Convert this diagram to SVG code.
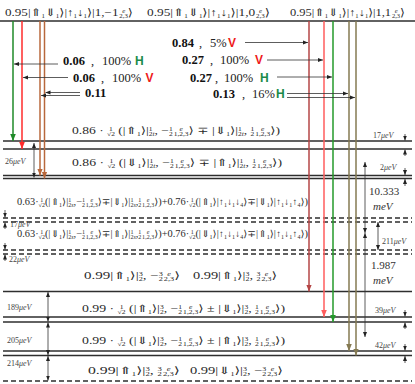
<svg xmlns="http://www.w3.org/2000/svg" width="415" height="384" viewBox="0 0 415 384">
<style>
.t{font-family:"Liberation Serif","DejaVu Serif",serif;fill:#2a2a2a}
.sb{font-size:5.5px;baseline-shift:-2.2px}
.sp{font-size:5.5px;baseline-shift:3.2px}
.i{font-style:italic}
.lv{stroke:#2e2e2e;stroke-width:1.3;fill:none}
.ld{stroke:#2e2e2e;stroke-width:1.3;fill:none;stroke-dasharray:5 3}
.ar{stroke:#333;stroke-width:0.8;fill:none}
.bn{font-family:"Liberation Serif",serif;font-weight:bold;font-size:12.5px;fill:#111}
.nm{font-family:"Liberation Serif",serif;font-size:12.5px;fill:#222}
.V{font-family:"Liberation Sans",Arial,sans-serif;font-weight:bold;font-size:12px;fill:#ee1a1a}
.H{font-family:"Liberation Sans",Arial,sans-serif;font-weight:bold;font-size:12px;fill:#1b8a4a}
.e{font-family:"Liberation Serif",serif;font-size:8px;fill:#444}
.big{font-family:"Liberation Serif",serif;font-size:11px;fill:#333}
.tr{fill:none;stroke-width:1.5}
</style>
<defs>
<marker id="ak" viewBox="0 0 10 10" refX="10" refY="5" markerWidth="5" markerHeight="5" markerUnits="userSpaceOnUse" orient="auto-start-reverse"><path d="M0,1 L10,5 L0,9 z" fill="#222"/></marker>
<marker id="mg1" viewBox="0 0 10 10" refX="10" refY="5" markerWidth="7" markerHeight="7" markerUnits="userSpaceOnUse" orient="auto"><path d="M0,1 L10,5 L0,9 z" fill="#1f8a28"/></marker>
<marker id="mr1" viewBox="0 0 10 10" refX="10" refY="5" markerWidth="7" markerHeight="7" markerUnits="userSpaceOnUse" orient="auto"><path d="M0,1 L10,5 L0,9 z" fill="#ff2b2b"/></marker>
<marker id="mbr" viewBox="0 0 10 10" refX="10" refY="5" markerWidth="7" markerHeight="7" markerUnits="userSpaceOnUse" orient="auto"><path d="M0,1 L10,5 L0,9 z" fill="#b8683c"/></marker>
<marker id="mdr" viewBox="0 0 10 10" refX="10" refY="5" markerWidth="7" markerHeight="7" markerUnits="userSpaceOnUse" orient="auto"><path d="M0,1 L10,5 L0,9 z" fill="#b54646"/></marker>
<marker id="mr2" viewBox="0 0 10 10" refX="10" refY="5" markerWidth="7" markerHeight="7" markerUnits="userSpaceOnUse" orient="auto"><path d="M0,1 L10,5 L0,9 z" fill="#ff5c5c"/></marker>
<marker id="mg2" viewBox="0 0 10 10" refX="10" refY="5" markerWidth="7" markerHeight="7" markerUnits="userSpaceOnUse" orient="auto"><path d="M0,1 L10,5 L0,9 z" fill="#249a2a"/></marker>
<marker id="mol" viewBox="0 0 10 10" refX="10" refY="5" markerWidth="7" markerHeight="7" markerUnits="userSpaceOnUse" orient="auto"><path d="M0,1 L10,5 L0,9 z" fill="#857a52"/></marker>
</defs>
<rect width="415" height="384" fill="#fff"/>

<g id="levels">
<line class="lv" x1="0" y1="21" x2="415" y2="21"/>
<line class="lv" x1="3" y1="141" x2="412" y2="141"/>
<line class="lv" x1="3" y1="149" x2="412" y2="149"/>
<line class="lv" x1="3" y1="175.5" x2="412" y2="175.5"/>
<line class="lv" x1="3" y1="178.5" x2="412" y2="178.5"/>
<line class="ld" x1="3" y1="218" x2="412" y2="218"/>
<line class="ld" x1="3" y1="222" x2="412" y2="222"/>
<line class="ld" x1="3" y1="250" x2="412" y2="250"/>
<line class="ld" x1="3" y1="254" x2="412" y2="254"/>
<line class="lv" x1="3" y1="291.5" x2="412" y2="291.5"/>
<line class="lv" x1="3" y1="317" x2="412" y2="317"/>
<line class="lv" x1="3" y1="322" x2="412" y2="322"/>
<line class="lv" x1="3" y1="351" x2="412" y2="351"/>
<line class="lv" x1="3" y1="355.5" x2="412" y2="355.5"/>
<line class="ld" x1="3" y1="381" x2="412" y2="381"/>
</g>

<g id="states">
<text class="t" x="5" y="16" font-size="10.5" textLength="128" lengthAdjust="spacingAndGlyphs">0.95|⇑<tspan class="sb">1</tspan>⇓<tspan class="sb">1</tspan>⟩|↑<tspan class="sb">1</tspan>↓<tspan class="sb">1</tspan>⟩|1,−1<tspan class="sp i" dx="3">e</tspan><tspan class="sb" dx="-4.75">2,3</tspan>⟩</text>
<text class="t" x="147" y="16" font-size="10.5" textLength="123" lengthAdjust="spacingAndGlyphs">0.95|⇑<tspan class="sb">1</tspan>⇓<tspan class="sb">1</tspan>⟩|↑<tspan class="sb">1</tspan>↓<tspan class="sb">1</tspan>⟩|1,0<tspan class="sp i" dx="3">e</tspan><tspan class="sb" dx="-4.75">2,3</tspan>⟩</text>
<text class="t" x="290" y="16" font-size="10.5" textLength="115" lengthAdjust="spacingAndGlyphs">0.95|⇑<tspan class="sb">1</tspan>⇓<tspan class="sb">1</tspan>⟩|↑<tspan class="sb">1</tspan>↓<tspan class="sb">1</tspan>⟩|1,1<tspan class="sp i" dx="3">e</tspan><tspan class="sb" dx="-4.75">2,3</tspan>⟩</text>

<text class="t" x="72" y="134" font-size="10" textLength="208" lengthAdjust="spacingAndGlyphs">0.86 · <tspan class="sp" dx="1.5">1</tspan><tspan class="sb" dx="-4.25">√2</tspan> (|⇑<tspan class="sb">1</tspan>⟩|<tspan class="sp">1</tspan><tspan class="sb" dx="-2.75">2</tspan><tspan class="sb i">t</tspan>, −<tspan class="sp">1</tspan><tspan class="sb" dx="-2.75">2</tspan><tspan class="sp i" dx="5">e</tspan><tspan class="sb" dx="-6.75">1,2,3</tspan>⟩ ∓ |⇓<tspan class="sb">1</tspan>⟩|<tspan class="sp">1</tspan><tspan class="sb" dx="-2.75">2</tspan><tspan class="sb i">t</tspan>, <tspan class="sp">1</tspan><tspan class="sb" dx="-2.75">2</tspan><tspan class="sp i" dx="5">e</tspan><tspan class="sb" dx="-6.75">1,2,3</tspan>⟩)</text>
<text class="t" x="72" y="166" font-size="10" textLength="210" lengthAdjust="spacingAndGlyphs">0.86 · <tspan class="sp" dx="1.5">1</tspan><tspan class="sb" dx="-4.25">√2</tspan> (|⇓<tspan class="sb">1</tspan>⟩|<tspan class="sp">1</tspan><tspan class="sb" dx="-2.75">2</tspan><tspan class="sb i">t</tspan>, −<tspan class="sp">1</tspan><tspan class="sb" dx="-2.75">2</tspan><tspan class="sp i" dx="5">e</tspan><tspan class="sb" dx="-6.75">1,2,3</tspan>⟩ ∓ |⇑<tspan class="sb">1</tspan>⟩|<tspan class="sp">1</tspan><tspan class="sb" dx="-2.75">2</tspan><tspan class="sb i">t</tspan>, <tspan class="sp">1</tspan><tspan class="sb" dx="-2.75">2</tspan><tspan class="sp i" dx="5">e</tspan><tspan class="sb" dx="-6.75">1,2,3</tspan>⟩)</text>

<text class="t" x="17" y="205" font-size="9.5" textLength="291" lengthAdjust="spacingAndGlyphs">0.63·<tspan class="sp" dx="1.5">1</tspan><tspan class="sb" dx="-4.25">√2</tspan>(|⇑<tspan class="sb">1</tspan>⟩|<tspan class="sp">1</tspan><tspan class="sb" dx="-2.75">2</tspan><tspan class="sb i">s</tspan>,−<tspan class="sp">1</tspan><tspan class="sb" dx="-2.75">2</tspan><tspan class="sp i" dx="5">e</tspan><tspan class="sb" dx="-6.75">1,2,3</tspan>⟩∓|⇓<tspan class="sb">1</tspan>⟩|<tspan class="sp">1</tspan><tspan class="sb" dx="-2.75">2</tspan><tspan class="sb i">s</tspan>,<tspan class="sp">1</tspan><tspan class="sb" dx="-2.75">2</tspan><tspan class="sp i" dx="5">e</tspan><tspan class="sb" dx="-6.75">1,2,3</tspan>⟩)+0.76·<tspan class="sp" dx="1.5">1</tspan><tspan class="sb" dx="-4.25">√2</tspan>(|⇑<tspan class="sb">1</tspan>⟩|↑<tspan class="sb">1</tspan>↓<tspan class="sb">1</tspan>↓<tspan class="sb">4</tspan>⟩∓|⇓<tspan class="sb">1</tspan>⟩|↑<tspan class="sb">1</tspan>↓<tspan class="sb">1</tspan>↑<tspan class="sb">4</tspan>⟩)</text>
<text class="t" x="17" y="237" font-size="9.5" textLength="291" lengthAdjust="spacingAndGlyphs">0.63·<tspan class="sp" dx="1.5">1</tspan><tspan class="sb" dx="-4.25">√2</tspan>(|⇓<tspan class="sb">1</tspan>⟩|<tspan class="sp">1</tspan><tspan class="sb" dx="-2.75">2</tspan><tspan class="sb i">s</tspan>,−<tspan class="sp">1</tspan><tspan class="sb" dx="-2.75">2</tspan><tspan class="sp i" dx="5">e</tspan><tspan class="sb" dx="-6.75">1,2,3</tspan>⟩∓|⇑<tspan class="sb">1</tspan>⟩|<tspan class="sp">1</tspan><tspan class="sb" dx="-2.75">2</tspan><tspan class="sb i">s</tspan>,<tspan class="sp">1</tspan><tspan class="sb" dx="-2.75">2</tspan><tspan class="sp i" dx="5">e</tspan><tspan class="sb" dx="-6.75">1,2,3</tspan>⟩)+0.76·<tspan class="sp" dx="1.5">1</tspan><tspan class="sb" dx="-4.25">√2</tspan>(|⇓<tspan class="sb">1</tspan>⟩|↑<tspan class="sb">1</tspan>↓<tspan class="sb">1</tspan>↓<tspan class="sb">4</tspan>⟩∓|⇑<tspan class="sb">1</tspan>⟩|↑<tspan class="sb">1</tspan>↓<tspan class="sb">1</tspan>↑<tspan class="sb">4</tspan>⟩)</text>

<text class="t" x="84" y="279" font-size="10" textLength="96" lengthAdjust="spacingAndGlyphs">0.99|⇑<tspan class="sb">1</tspan>⟩|<tspan class="sp">3</tspan><tspan class="sb" dx="-2.75">2</tspan>, −<tspan class="sp">3</tspan><tspan class="sb" dx="-2.75">2</tspan><tspan class="sp i" dx="3">e</tspan><tspan class="sb" dx="-4.75">2,3</tspan>⟩</text>
<text class="t" x="193" y="279" font-size="10" textLength="84" lengthAdjust="spacingAndGlyphs">0.99|⇑<tspan class="sb">1</tspan>⟩|<tspan class="sp">3</tspan><tspan class="sb" dx="-2.75">2</tspan>, <tspan class="sp">3</tspan><tspan class="sb" dx="-2.75">2</tspan><tspan class="sp i" dx="3">e</tspan><tspan class="sb" dx="-4.75">2,3</tspan>⟩</text>

<text class="t" x="82" y="312" font-size="10" textLength="203" lengthAdjust="spacingAndGlyphs">0.99 · <tspan class="sp" dx="1.5">1</tspan><tspan class="sb" dx="-4.25">√2</tspan> (|⇑<tspan class="sb">1</tspan>⟩|<tspan class="sp">3</tspan><tspan class="sb" dx="-2.75">2</tspan>, −<tspan class="sp">1</tspan><tspan class="sb" dx="-2.75">2</tspan><tspan class="sp i" dx="5">e</tspan><tspan class="sb" dx="-6.75">1,2,3</tspan>⟩ ± |⇓<tspan class="sb">1</tspan>⟩|<tspan class="sp">3</tspan><tspan class="sb" dx="-2.75">2</tspan>, <tspan class="sp">1</tspan><tspan class="sb" dx="-2.75">2</tspan><tspan class="sp i" dx="5">e</tspan><tspan class="sb" dx="-6.75">1,2,3</tspan>⟩)</text>
<text class="t" x="82" y="344" font-size="10" textLength="203" lengthAdjust="spacingAndGlyphs">0.99 · <tspan class="sp" dx="1.5">1</tspan><tspan class="sb" dx="-4.25">√2</tspan> (|⇓<tspan class="sb">1</tspan>⟩|<tspan class="sp">3</tspan><tspan class="sb" dx="-2.75">2</tspan>, −<tspan class="sp">1</tspan><tspan class="sb" dx="-2.75">2</tspan><tspan class="sp i" dx="5">e</tspan><tspan class="sb" dx="-6.75">1,2,3</tspan>⟩ ± |⇑<tspan class="sb">1</tspan>⟩|<tspan class="sp">3</tspan><tspan class="sb" dx="-2.75">2</tspan>, <tspan class="sp">1</tspan><tspan class="sb" dx="-2.75">2</tspan><tspan class="sp i" dx="5">e</tspan><tspan class="sb" dx="-6.75">1,2,3</tspan>⟩)</text>

<text class="t" x="88" y="374" font-size="10" textLength="92" lengthAdjust="spacingAndGlyphs">0.99|⇑<tspan class="sb">1</tspan>⟩|<tspan class="sp">3</tspan><tspan class="sb" dx="-2.75">2</tspan>, <tspan class="sp">3</tspan><tspan class="sb" dx="-2.75">2</tspan><tspan class="sp i" dx="3">e</tspan><tspan class="sb" dx="-4.75">2,3</tspan>⟩</text>
<text class="t" x="190" y="374" font-size="10" textLength="93" lengthAdjust="spacingAndGlyphs">0.99|⇓<tspan class="sb">1</tspan>⟩|<tspan class="sp">3</tspan><tspan class="sb" dx="-2.75">2</tspan>, −<tspan class="sp">3</tspan><tspan class="sb" dx="-2.75">2</tspan><tspan class="sp i" dx="3">e</tspan><tspan class="sb" dx="-4.75">2,3</tspan>⟩</text>
</g>

<g id="transitions">
<line class="tr" x1="13" y1="21" x2="13" y2="141" stroke="#1f8a28" marker-end="url(#mg1)"/>
<line class="tr" x1="22" y1="21" x2="22" y2="149" stroke="#ff2b2b" marker-end="url(#mr1)"/>
<line class="tr" x1="40" y1="21" x2="40" y2="175.5" stroke="#b8683c" marker-end="url(#mbr)"/>
<line class="tr" x1="44.5" y1="21" x2="44.5" y2="178.5" stroke="#b8683c" marker-end="url(#mbr)"/>
<line class="tr" x1="309" y1="21" x2="309" y2="291.5" stroke="#b54646" marker-end="url(#mdr)"/>
<line class="tr" x1="324" y1="21" x2="324" y2="317" stroke="#ff5c5c" marker-end="url(#mr2)"/>
<line class="tr" x1="333" y1="21" x2="333" y2="322" stroke="#249a2a" marker-end="url(#mg2)"/>
<line class="tr" x1="349" y1="21" x2="349" y2="351" stroke="#857a52" marker-end="url(#mol)"/>
<line class="tr" x1="356" y1="21" x2="356" y2="355.5" stroke="#857a52" marker-end="url(#mol)"/>
</g>

<g id="connectors">
<line class="ar" x1="245" y1="42.5" x2="308" y2="42.5" marker-end="url(#ak)"/>
<line class="ar" x1="267" y1="60" x2="323" y2="60" marker-end="url(#ak)"/>
<line class="ar" x1="58" y1="64" x2="14" y2="64" marker-end="url(#ak)"/>
<line class="ar" x1="68" y1="77.5" x2="23" y2="77.5" marker-end="url(#ak)"/>
<line class="ar" x1="277" y1="77" x2="332" y2="77" marker-end="url(#ak)"/>
<line class="ar" x1="80" y1="92.5" x2="45.5" y2="92.5" marker-end="url(#ak)"/>
<line class="ar" x1="80" y1="95.5" x2="41" y2="95.5" marker-end="url(#ak)"/>
<line class="ar" x1="287" y1="93.5" x2="348" y2="93.5" marker-end="url(#ak)"/>
<line class="ar" x1="287" y1="97.5" x2="355" y2="97.5" marker-end="url(#ak)"/>
</g>

<g id="labels">
<text y="47"><tspan class="bn" x="172">0.84</tspan><tspan class="nm" x="199">,</tspan><tspan class="nm" x="210">5%</tspan><tspan class="V" x="228">V</tspan></text>
<text y="63.5"><tspan class="bn" x="182">0.27</tspan><tspan class="nm" x="210">,</tspan><tspan class="nm" x="220">100%</tspan><tspan class="V" x="255">V</tspan></text>
<text y="65"><tspan class="bn" x="63">0.06</tspan><tspan class="nm" x="91">,</tspan><tspan class="nm" x="102">100%</tspan><tspan class="H" x="135">H</tspan></text>
<text y="81.5"><tspan class="bn" x="73">0.06</tspan><tspan class="nm" x="101">,</tspan><tspan class="nm" x="112">100%</tspan><tspan class="V" x="145.5">V</tspan></text>
<text y="82"><tspan class="bn" x="190">0.27</tspan><tspan class="nm" x="215">,</tspan><tspan class="nm" x="224">100%</tspan><tspan class="H" x="260">H</tspan></text>
<text class="bn" x="85" y="97">0.11</text>
<text y="98"><tspan class="bn" x="213">0.13</tspan><tspan class="nm" x="242">,</tspan><tspan class="nm" x="252">16%</tspan><tspan class="H" x="276">H</tspan></text>
</g>

<g id="gaps">
<line class="ar" x1="34" y1="143" x2="34" y2="177.5" marker-start="url(#ak)" marker-end="url(#ak)"/>
<text class="e" x="5" y="164">26<tspan class="i">μeV</tspan></text>
<line class="ar" x1="5" y1="210" x2="5" y2="217.5" marker-end="url(#ak)"/>
<line class="ar" x1="5" y1="229" x2="5" y2="222.5" marker-end="url(#ak)"/>
<text class="e" x="10" y="227">17<tspan class="i">μeV</tspan></text>
<line class="ar" x1="5" y1="243" x2="5" y2="249.5" marker-end="url(#ak)"/>
<line class="ar" x1="5" y1="261" x2="5" y2="254.5" marker-end="url(#ak)"/>
<text class="e" x="9" y="262">22<tspan class="i">μeV</tspan></text>
<line class="ar" x1="48" y1="292" x2="48" y2="321.5" marker-start="url(#ak)" marker-end="url(#ak)"/>
<text class="e" x="7" y="310">189<tspan class="i">μeV</tspan></text>
<line class="ar" x1="48" y1="322.5" x2="48" y2="355" marker-start="url(#ak)" marker-end="url(#ak)"/>
<text class="e" x="7" y="343">205<tspan class="i">μeV</tspan></text>
<line class="ar" x1="48" y1="356" x2="48" y2="380.5" marker-start="url(#ak)" marker-end="url(#ak)"/>
<text class="e" x="7" y="366">214<tspan class="i">μeV</tspan></text>

<line class="ar" x1="405" y1="134" x2="405" y2="140.5" marker-end="url(#ak)"/>
<line class="ar" x1="405" y1="156" x2="405" y2="149.5" marker-end="url(#ak)"/>
<text class="e" x="373" y="138">17<tspan class="i">μeV</tspan></text>
<line class="ar" x1="405" y1="168" x2="405" y2="175" marker-end="url(#ak)"/>
<line class="ar" x1="405" y1="186" x2="405" y2="179" marker-end="url(#ak)"/>
<text class="e" x="380" y="170">2<tspan class="i">μeV</tspan></text>
<line class="ar" x1="365" y1="162" x2="365" y2="233" marker-start="url(#ak)" marker-end="url(#ak)"/>
<text class="big" x="369" y="195">10.333</text>
<text class="big i" x="373" y="209.5">meV</text>
<line class="ar" x1="378" y1="222" x2="378" y2="250" marker-start="url(#ak)" marker-end="url(#ak)"/>
<text class="e" x="382" y="244">211<tspan class="i">μeV</tspan></text>
<line class="ar" x1="365" y1="233" x2="365" y2="337" marker-start="url(#ak)" marker-end="url(#ak)"/>
<text class="big" x="371" y="269">1.987</text>
<text class="big i" x="373" y="283.5">meV</text>
<line class="ar" x1="405" y1="310" x2="405" y2="316.5" marker-end="url(#ak)"/>
<line class="ar" x1="405" y1="329" x2="405" y2="322.5" marker-end="url(#ak)"/>
<text class="e" x="375" y="313">39<tspan class="i">μeV</tspan></text>
<line class="ar" x1="405" y1="344" x2="405" y2="350.5" marker-end="url(#ak)"/>
<line class="ar" x1="405" y1="363" x2="405" y2="356" marker-end="url(#ak)"/>
<text class="e" x="375" y="348">42<tspan class="i">μeV</tspan></text>
</g>
</svg>
